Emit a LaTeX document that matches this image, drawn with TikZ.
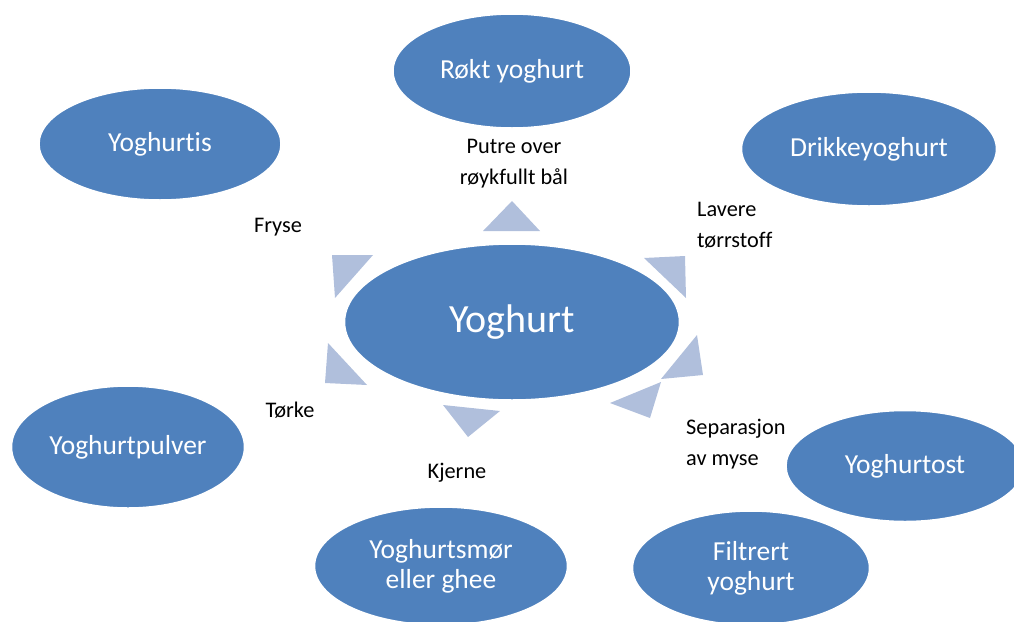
\documentclass[tikz,border=0pt]{standalone}
\usepackage{fontspec}
\setmainfont[RawFeature={-liga;-clig;-calt;-dlig}]{Carlito}
\usetikzlibrary{shapes.geometric}
\definecolor{ellblue}{HTML}{4F81BD}
\definecolor{tricol}{RGB}{176,191,220}
\tikzset{
  ell/.style={ellipse, fill=ellblue, draw=white, line width=1.5pt, inner sep=0pt, text=white, align=center, font=\fontsize{27.5}{30}\selectfont},
  bigell/.style={ell, font=\fontsize{40}{44}\selectfont},
  lbl/.style={inner sep=0pt, text=black, font=\fontsize{22.3}{31}\selectfont},
  tri/.style={fill=tricol},
}
\begin{document}
\begin{tikzpicture}[x=1pt,y=-1pt]
\useasboundingbox (0,0) rectangle (1014,621);
\begin{scope}
\clip (0,0) rectangle (1014,621);
% triangles
\fill[tri] (483,231) -- (540,231) -- (512,201) -- cycle;
\fill[tri] (332,255) -- (373,255) -- (335,298) -- cycle;
\fill[tri] (644,258) -- (685,256) -- (686,298) -- cycle;
\fill[tri] (697,335) -- (703,375) -- (661,379) -- cycle;
\fill[tri] (661,382) -- (650,418) -- (610,403) -- cycle;
\fill[tri] (443,405) -- (500,411) -- (468,437) -- cycle;
\fill[tri] (328,343) -- (325,383) -- (367,385) -- cycle;
% ellipses
\node[bigell, minimum width=335pt, minimum height=156pt] (yog) at (512,322) {Yoghurt};
\node[ell, minimum width=238pt, minimum height=114pt] (rokt) at (512,71) {Røkt yoghurt};
\node[ell, minimum width=242pt, minimum height=112pt] (is) at (160,144) {Yoghurtis};
\node[ell, minimum width=255pt, minimum height=114pt] (drikke) at (869,149) {Drikkeyoghurt};
\node[ell, minimum width=233pt, minimum height=122pt] (pulver) at (128,447) {Yoghurtpulver};
\node[ell, minimum width=238pt, minimum height=111pt] (ost) at (905,466) {Yoghurtost};
\node[ell, minimum width=237pt, minimum height=114pt] (filt) at (751,568) {Filtrert\\yoghurt};
\node[ell, minimum width=253pt, minimum height=118pt] (smor) at (441,566) {Yoghurtsmør\\eller ghee};
\end{scope}
% labels
\node[lbl, align=center] (lputre) at (514,164) {Putre over\\røykfullt bål};
\node[lbl] (lfryse) at (278,227) {Fryse};
\node[lbl, align=left, anchor=west] (llavere) at (697,225) {Lavere\\tørrstoff};
\node[lbl] (ltorke) at (290,410) {Tørke};
\node[lbl] (lkjerne) at (457,473) {Kjerne};
\node[lbl, align=left, anchor=west] (lsep) at (686,444) {Separasjon\\av myse};
\end{tikzpicture}
\end{document}
